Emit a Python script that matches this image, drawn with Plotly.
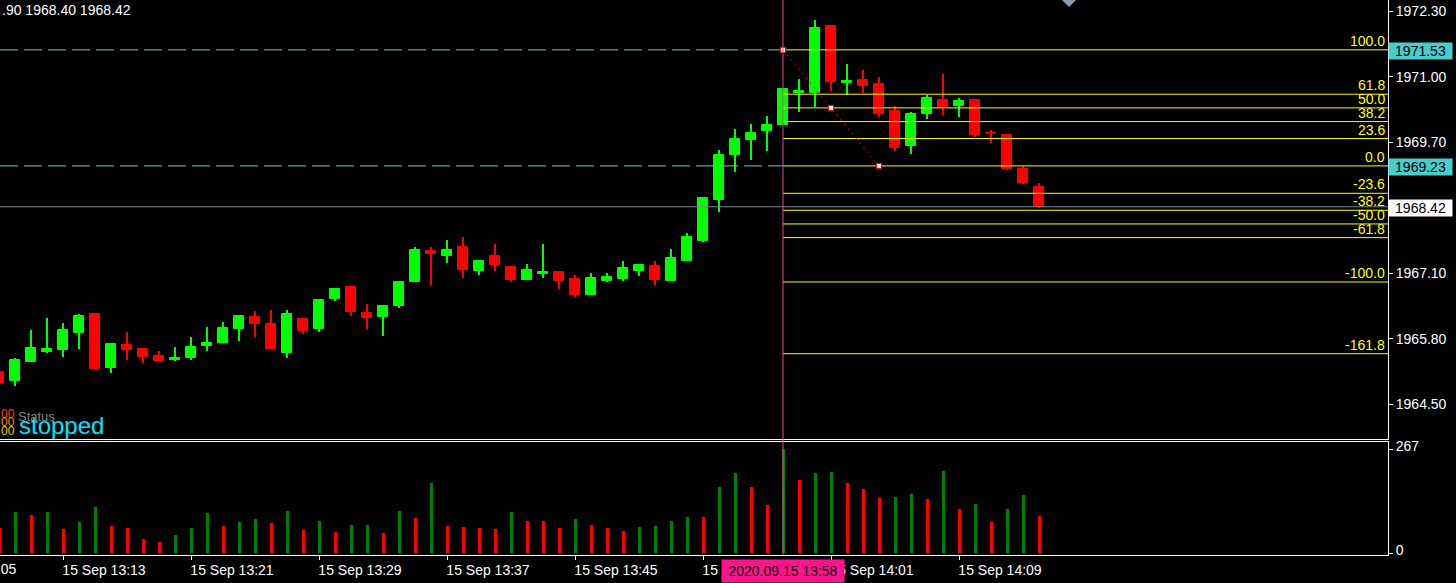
import datetime
import plotly.graph_objects as go

# ---------------- data ----------------
bar_start = datetime.datetime(2020, 9, 15, 13, 9)

opens = [1965.14, 1964.96, 1965.34, 1965.55, 1965.59, 1965.91, 1966.29, 1965.22, 1965.69, 1965.61,
         1965.47, 1965.38, 1965.43, 1965.67, 1965.73, 1965.99, 1966.23, 1966.09, 1965.53, 1966.19,
         1965.99, 1966.59, 1966.84, 1966.31, 1966.23, 1966.45, 1966.92, 1967.54, 1967.44, 1967.62,
         1967.14, 1967.44, 1967.22, 1966.96, 1967.08, 1967.12, 1966.98, 1966.67, 1966.94, 1966.98,
         1967.14, 1967.24, 1966.94, 1967.34, 1967.74, 1968.55, 1969.44, 1969.74, 1969.92, 1970.04,
         1970.67, 1970.67, 1972.00, 1970.87, 1970.93, 1970.85, 1970.32, 1969.62, 1970.26, 1970.53,
         1970.42, 1970.53, 1969.88, 1969.84, 1969.17, 1968.81]
highs = [1965.18, 1965.42, 1965.97, 1966.21, 1966.11, 1966.29, 1966.29, 1965.71, 1965.93, 1965.63,
         1965.57, 1965.65, 1965.83, 1966.03, 1966.13, 1966.25, 1966.35, 1966.37, 1966.37, 1966.19,
         1966.57, 1966.80, 1966.86, 1966.49, 1966.45, 1966.92, 1967.62, 1967.62, 1967.76, 1967.82,
         1967.36, 1967.68, 1967.22, 1967.28, 1967.68, 1967.14, 1967.06, 1967.10, 1967.10, 1967.34,
         1967.26, 1967.34, 1967.58, 1967.90, 1968.59, 1969.54, 1969.96, 1970.06, 1970.22, 1970.75,
         1970.95, 1972.12, 1972.00, 1971.25, 1971.13, 1970.99, 1970.42, 1970.30, 1970.63, 1971.05,
         1970.57, 1970.55, 1969.94, 1969.84, 1969.22, 1968.90]
lows = [1964.86, 1964.86, 1965.34, 1965.53, 1965.45, 1965.61, 1965.20, 1965.12, 1965.38, 1965.32,
        1965.36, 1965.36, 1965.38, 1965.57, 1965.73, 1965.77, 1965.83, 1965.61, 1965.43, 1965.89,
        1965.93, 1966.55, 1966.25, 1965.99, 1965.85, 1966.41, 1966.92, 1966.88, 1967.30, 1967.00,
        1967.06, 1967.14, 1966.92, 1966.96, 1967.00, 1966.80, 1966.63, 1966.67, 1966.92, 1966.94,
        1967.04, 1966.88, 1966.94, 1967.34, 1967.72, 1968.31, 1969.11, 1969.34, 1969.52, 1970.04,
        1970.30, 1970.40, 1970.71, 1970.63, 1970.67, 1970.20, 1969.52, 1969.46, 1970.16, 1970.24,
        1970.20, 1969.80, 1969.68, 1969.15, 1968.87, 1968.40]
closes = [1964.92, 1965.38, 1965.63, 1965.61, 1965.97, 1966.25, 1965.20, 1965.71, 1965.59, 1965.45,
          1965.36, 1965.43, 1965.65, 1965.73, 1966.01, 1966.25, 1966.09, 1965.61, 1966.29, 1965.95,
          1966.57, 1966.80, 1966.33, 1966.21, 1966.45, 1966.92, 1967.56, 1967.48, 1967.56, 1967.16,
          1967.34, 1967.26, 1966.96, 1967.16, 1967.12, 1966.94, 1966.67, 1967.00, 1967.02, 1967.20,
          1967.26, 1966.96, 1967.40, 1967.82, 1968.59, 1969.44, 1969.76, 1969.88, 1970.04, 1970.75,
          1970.71, 1971.96, 1970.89, 1970.91, 1970.81, 1970.26, 1969.58, 1970.26, 1970.57, 1970.40,
          1970.51, 1969.84, 1969.88, 1969.17, 1968.89, 1968.42]
volumes = [64, 106, 98, 106, 62, 80, 118, 70, 64, 36, 28, 46, 64, 103, 70, 80, 88, 77, 108, 59,
           82, 54, 72, 73, 52, 108, 90, 180, 70, 67, 64, 62, 106, 82, 82, 64, 88, 72, 64, 57,
           67, 70, 82, 93, 92, 170, 206, 170, 124, 267, 188, 206, 209, 180, 165, 142, 144, 152, 139, 211,
           113, 126, 80, 113, 149, 95]

fib_high = 1971.53
fib_low = 1969.23
fib_start_bar = 49
fib_end_bar = 55
fib_levels = [100.0, 61.8, 50.0, 38.2, 23.6, 0.0, -23.6, -38.2, -50.0, -61.8, -100.0, -161.8]
bid_price = 1968.42
price_ticks = [1964.50, 1965.80, 1967.10, 1968.40, 1969.70, 1971.00, 1972.30]
vol_ticks = [0, 267]
time_tick_bars = [4, 12, 20, 28, 36, 44, 52, 60]
cursor_bar = 49
header_text = ".90 1968.40 1968.42"
status_label = "Status"
status_value = "stopped"

# ---------------- derived ----------------
n = len(opens)
idx = list(range(n))
times = [bar_start + datetime.timedelta(minutes=k) for k in range(n)]

BULL = "#00ff00"
BEAR = "#ff0000"
VOL_UP = "#008000"
VOL_DN = "#ff0000"
FIB = "#ffff00"

X_RANGE = [0.0625, 86.8125]
Y_RANGE = [1963.828, 1972.518]
PLOT_H = 555.0
PRICE_BOTTOM = (PLOT_H - 438.5) / PLOT_H
VOL_TOP = (PLOT_H - 442.0) / PLOT_H


def py(px):
    return (PLOT_H - px) / PLOT_H


def pxx(px):
    return px / 1388.0


candle_col = [BULL if c > o else BEAR for o, c in zip(opens, closes)]
vol_col = [VOL_DN] + [VOL_UP if volumes[k] > volumes[k - 1] else VOL_DN for k in range(1, n)]

fig = go.Figure()

# wicks
fig.add_trace(go.Bar(
    x=idx, base=lows, y=[h - l for h, l in zip(highs, lows)], width=1 / 16,
    marker=dict(color=candle_col, line=dict(width=0)), xaxis="x", yaxis="y"))
# bodies
fig.add_trace(go.Bar(
    x=idx, base=[min(o, c) for o, c in zip(opens, closes)],
    y=[abs(c - o) for o, c in zip(opens, closes)], width=10 / 16,
    marker=dict(color=candle_col, line=dict(color=candle_col, width=1)), xaxis="x", yaxis="y"))
# doji bodies
dx, dy = [], []
for k in idx:
    if opens[k] == closes[k]:
        dx += [k - 0.34, k + 0.34, None]
        dy += [opens[k], opens[k], None]
if dx:
    fig.add_trace(go.Scatter(x=dx, y=dy, mode="lines", line=dict(color=BEAR, width=1),
                             xaxis="x", yaxis="y"))

# dashed horizontal lines at fib anchors (left part)
for lvl_price in (fib_high, fib_low):
    fig.add_trace(go.Scatter(x=[X_RANGE[0], fib_start_bar], y=[lvl_price, lvl_price], mode="lines",
                             line=dict(color="#66c8c8", width=1, dash="18px,6px"),
                             xaxis="x", yaxis="y"))

# bid line
fig.add_trace(go.Scatter(x=[X_RANGE[0], X_RANGE[1]], y=[bid_price, bid_price], mode="lines",
                         line=dict(color="#778899", width=1), xaxis="x", yaxis="y"))

# fibonacci levels
fib_prices = [fib_low + (fib_high - fib_low) * l / 100.0 for l in fib_levels]
fx, fy = [], []
for p in fib_prices:
    fx += [fib_start_bar, X_RANGE[1], None]
    fy += [p, p, None]
fig.add_trace(go.Scatter(x=fx, y=fy, mode="lines", line=dict(color=FIB, width=1),
                         xaxis="x", yaxis="y"))

# fib trend line
mid_bar = (fib_start_bar + fib_end_bar) / 2
fig.add_trace(go.Scatter(x=[fib_start_bar, fib_end_bar], y=[fib_high, fib_low], mode="lines",
                         line=dict(color=BEAR, width=1, dash="2px,4px"), xaxis="x", yaxis="y"))
fig.add_trace(go.Scatter(x=[fib_start_bar, mid_bar, fib_end_bar],
                         y=[fib_high, (fib_high + fib_low) / 2, fib_low], mode="markers",
                         marker=dict(symbol="square", size=5, color="white",
                                     line=dict(color=BEAR, width=1)),
                         xaxis="x", yaxis="y"))

# volumes
fig.add_trace(go.Bar(x=idx, y=volumes, width=3 / 16, marker=dict(color=vol_col, line=dict(width=0)),
                     xaxis="x2", yaxis="y2"))

annotations = []
# fib labels
for l, p in zip(fib_levels, fib_prices):
    annotations.append(dict(xref="paper", x=1, xanchor="right", xshift=-2, yref="y", y=p,
                            yanchor="bottom", text=f"{l:.1f}", showarrow=False,
                            font=dict(color=FIB, size=14), borderpad=0))
# right price labels
for p, bg in ((fib_high, "#48cccc"), (fib_low, "#48cccc"), (bid_price, "#ffffff")):
    annotations.append(dict(xref="paper", x=1, xanchor="left", xshift=0, yref="y", y=p,
                            yanchor="middle", yshift=-1, text=f"{p:.2f}", showarrow=False,
                            bgcolor=bg, width=61, height=14, borderpad=1,
                            font=dict(color="black", size=14)))
# header
annotations.append(dict(xref="paper", x=0, xanchor="left", yref="paper", y=py(10), yanchor="middle",
                        text=header_text, showarrow=False, font=dict(color="white", size=14)))
# partially hidden first time label
prev_t = bar_start + datetime.timedelta(minutes=-4)
annotations.append(dict(xref="paper", x=pxx(18.5), xanchor="right", yref="paper", y=py(569),
                        yanchor="middle", text=f"15 Sep {prev_t:%H:%M}", showarrow=False,
                        font=dict(color="white", size=14)))
# cursor date label
ct = times[cursor_bar]
annotations.append(dict(xref="x", x=cursor_bar, xanchor="center", yref="paper", y=py(571),
                        yanchor="middle", text=f"{ct:%Y.%m.%d %H:%M}", showarrow=False,
                        bgcolor="#ff148c", width=116, height=16, borderpad=3,
                        font=dict(color="black", size=14)))
# status block
for txt, col, ypx in (("00", "#ff4000", 414), ("00", "#ff9000", 422), ("00", "#ffcc00", 431)):
    annotations.append(dict(xref="paper", x=0, xanchor="left", xshift=-1, yref="paper", y=py(ypx),
                            yanchor="middle", text=txt, showarrow=False,
                            font=dict(color=col, size=12)))
annotations.append(dict(xref="paper", x=pxx(16), xanchor="left", yref="paper", y=py(416),
                        yanchor="middle", text=status_label, showarrow=False,
                        font=dict(color="#808080", size=13)))
annotations.append(dict(xref="paper", x=pxx(17), xanchor="left", yref="paper", y=py(425),
                        yanchor="middle", text=status_value, showarrow=False,
                        font=dict(color="#00e5ff", size=24)))

shapes = [
    dict(type="line", xref="x", x0=cursor_bar, x1=cursor_bar, yref="paper", y0=0, y1=1,
         line=dict(color="#e6409b", width=1)),
    dict(type="path", xref="paper", yref="paper",
         path=f"M {pxx(1062)},{py(0)} L {pxx(1076)},{py(0)} L {pxx(1069)},{py(7)} Z",
         fillcolor="#8f9caa", line=dict(width=0)),
]

axis_common = dict(showgrid=False, zeroline=False, color="white", linecolor="white", linewidth=1,
                   tickcolor="white", tickfont=dict(color="white", size=14), automargin=False)

fig.update_layout(
    width=1456, height=583,
    margin=dict(l=0, r=68, t=0, b=28, autoexpand=False),
    paper_bgcolor="black", plot_bgcolor="black",
    showlegend=False, barmode="overlay", bargap=0, bargroupgap=0,
    hovermode=False,
    font=dict(family="Liberation Sans, Arial, sans-serif", size=14, color="white"),
    xaxis=dict(domain=[0, 1], range=X_RANGE, anchor="y", showticklabels=False, ticks="",
               showline=True, **axis_common),
    yaxis=dict(domain=[PRICE_BOTTOM, 1], range=Y_RANGE, anchor="x", side="right",
               tickvals=price_ticks, ticktext=[f"{v:.2f}" for v in price_ticks],
               ticks="outside", ticklen=4, showline=True, **axis_common),
    xaxis2=dict(domain=[0, 1], range=X_RANGE, anchor="y2",
                tickvals=time_tick_bars,
                ticktext=[f"15 Sep {times[k]:%H:%M}" for k in time_tick_bars],
                ticks="outside", ticklen=4, ticklabelshift=41, ticklabelstandoff=-2,
                showline=True, mirror=True, **axis_common),
    yaxis2=dict(domain=[0, VOL_TOP], range=[-5, 285], anchor="x2", side="right",
                tickvals=vol_ticks, ticktext=[str(v) for v in vol_ticks],
                ticks="outside", ticklen=4, ticklabelshift=-3, showline=True, **axis_common),
    annotations=annotations,
    shapes=shapes,
)

fig.write_html("out.html", config={"displayModeBar": False})
